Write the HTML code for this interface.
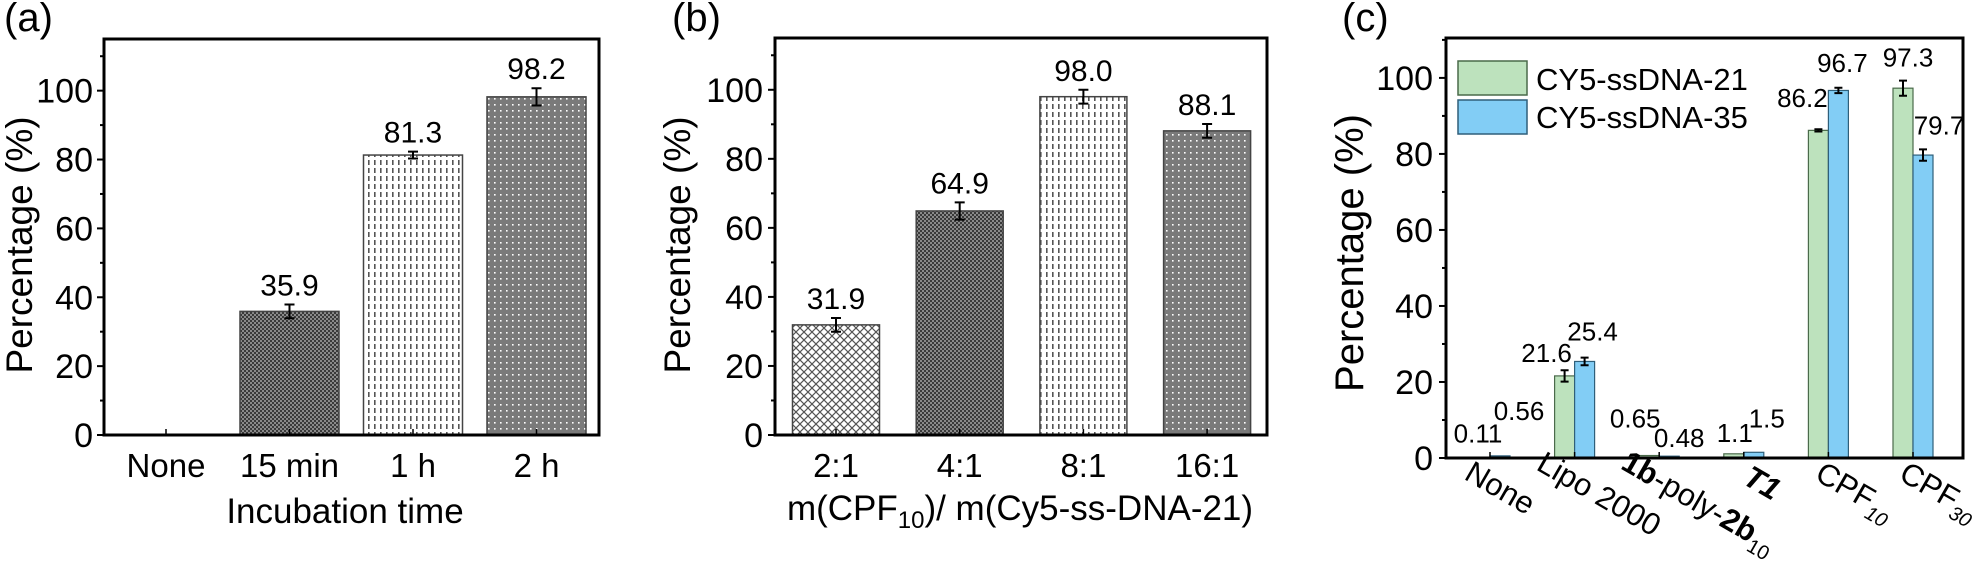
<!DOCTYPE html>
<html><head><meta charset="utf-8"><style>
body{margin:0;background:#fff}
svg{display:block;font-family:"Liberation Sans",Arial,sans-serif}
</style></head><body>
<svg id="fig" width="1975" height="564" viewBox="0 0 1975 564" xmlns="http://www.w3.org/2000/svg">
<defs>
<pattern id="pChk" width="4" height="4" patternUnits="userSpaceOnUse"><rect width="4" height="4" fill="#3a3a3a"/><rect width="2" height="2" fill="#8a8a8a"/><rect x="2" y="2" width="2" height="2" fill="#8a8a8a"/></pattern>
<pattern id="pDash" width="6" height="8" patternUnits="userSpaceOnUse"><rect width="6" height="8" fill="#fff"/><rect x="2" y="0" width="1.6" height="5" fill="#555"/></pattern>
<pattern id="pDot" width="6" height="6" patternUnits="userSpaceOnUse"><rect width="6" height="6" fill="#7a7a7a"/><rect x="2" y="2" width="1.6" height="1.6" fill="#fff"/></pattern>
<pattern id="pX" width="8" height="8" patternUnits="userSpaceOnUse"><rect width="8" height="8" fill="#fff"/><path d="M0 0L8 8M8 0L0 8" stroke="#555" stroke-width="1.2"/></pattern>
</defs>
<g id="root"></g>
</svg>
<script>
// Panel (a)
const catsA = ["None","15 min","1 h","2 h"];
const valsA = [0, 35.9, 81.3, 98.2];
const errA = [0, 2, 1, 2.5];
const labA = ["", "35.9", "81.3", "98.2"];
const fillA = ["none","url(#pChk)","url(#pDash)","url(#pDot)"];
// Panel (b)
const catsB = ["2:1","4:1","8:1","16:1"];
const valsB = [31.9, 64.9, 98.0, 88.1];
const errB = [2, 2.5, 2, 2];
const labB = ["31.9","64.9","98.0","88.1"];
const fillB = ["url(#pX)","url(#pChk)","url(#pDash)","url(#pDot)"];
// Panel (c)
const catsC = ["None","Lipo 2000","1b-poly-2b10","T1","CPF10","CPF30"];
const valsC21 = [0.11, 21.6, 0.65, 1.1, 86.2, 97.3];
const valsC35 = [0.56, 25.4, 0.48, 1.5, 96.7, 79.7];
const errC21 = [0, 1.5, 0, 0, 0.3, 2];
const errC35 = [0, 1, 0, 0, 0.7, 1.5];
const labC21 = ["0.11","21.6","0.65","1.1","86.2","97.3"];
const labC35 = ["0.56","25.4","0.48","1.5","96.7","79.7"];
const yTicks = [0,20,40,60,80,100];

const NS = "http://www.w3.org/2000/svg";
const root = document.getElementById("root");
function mk(tag, attrs, parent, txt){
  const e = document.createElementNS(NS, tag);
  for (const k in attrs) e.setAttribute(k, attrs[k]);
  if (txt !== undefined) e.textContent = txt;
  (parent||root).appendChild(e);
  return e;
}

function axes(g, L, R, T, B, ymax, tickRight){
  const y = v => B - v/ymax*(B-T);
  for (let v=0; v<=ymax; v+=10){
    const major = v%20===0;
    const t = mk("line",{x1:L-(major?7:4),x2:L,y1:y(v),y2:y(v),stroke:"#000","stroke-width":2},g);
    
    
  }
  yTicks.forEach(v=>{
    const t = mk("text",{x:tickRight,y:y(v)+12,"text-anchor":"end","font-size":34},g,String(v));
    
    
  });
  const fr = mk("rect",{x:L,y:T,width:R-L,height:B-T,fill:"none",stroke:"#000","stroke-width":3},g);
  
  
  return y;
}

function errbar(g, x, yTop, yBot, w){
  const e = mk("path",{d:`M${x-w} ${yTop}H${x+w}M${x} ${yTop}V${yBot}M${x-w} ${yBot}H${x+w}`,stroke:"#000","stroke-width":2,fill:"none"},g);
  
  
}

function simplePanel(name, cats, vals, errs, labs, fills, L, R, T, B, firstX, step, bw, tickRight, ylabX, letter, letterX){
  const g = mk("g",{});
  
  
  const ymax = 115;
  const y = v => B - v/ymax*(B-T);
  cats.forEach((c,i)=>{
    const cx = firstX + i*step;
    if (vals[i] > 0){
      const r = mk("rect",{x:cx-bw/2,y:y(vals[i]),width:bw,height:B-y(vals[i]),fill:fills[i],stroke:"#444","stroke-width":1.5},g);
      
      
      errbar(g, cx, y(vals[i]+errs[i]), y(vals[i]-errs[i]), 5);
      const t = mk("text",{x:cx,y:y(vals[i]+errs[i])-9,"text-anchor":"middle","font-size":30},g,labs[i]);
      
      
    }
    const tk = mk("line",{x1:cx,x2:cx,y1:B,y2:B-6,stroke:"#000","stroke-width":1.5},g);
    
    
    const cl = mk("text",{x:cx,y:477,"text-anchor":"middle","font-size":33},g,c);
    
    
  });
  axes(g, L, R, T, B, ymax, tickRight);
  const yl = mk("text",{x:0,y:0,transform:`translate(${ylabX},245) rotate(-90)`,"text-anchor":"middle","font-size":37},g,"Percentage (%)");
  
  
  const lt = mk("text",{x:letterX,y:31,"font-size":40},g,letter);
  
  
  return g;
}

// Panel a
const ga = simplePanel("panel-a", catsA, valsA, errA, labA, fillA, 104, 599, 39, 435, 166, 123.5, 99, 93, 32, "(a)", 4);
const ta = mk("text",{x:345,y:523,"text-anchor":"middle","font-size":35},ga,"Incubation time");



// Panel b
const gb = simplePanel("panel-b", catsB, valsB, errB, labB, fillB, 775, 1267, 38, 435, 836, 123.7, 87, 763, 690, "(b)", 672);
const tb = mk("text",{x:1020,y:520,"text-anchor":"middle","font-size":35},gb);


tb.innerHTML = 'm(CPF<tspan font-size="24" dy="8">10</tspan><tspan dy="-8">)/ m(Cy5-ss-DNA-21)</tspan>';

// Panel c
const gc = mk("g",{});


{
  const L=1446,R=1963,T=38,B=458,ymax=110.5;
  const y = v => B - v/ymax*(B-T);
  const first=1490, step=84.6, bw=20;
  // label offsets (layout only): dx from group centre, dy above error top
  const dx21 = [-12,-28,-24,-9,-26,-5], dy21 = [15,8,28,12,22,14];
  const dx35 = [29,18,20,23,14,26], dy35 = [36,17,9,25,16,15];
  catsC.forEach((c,i)=>{
    const cx = first + i*step;
    const r1 = mk("rect",{x:cx-bw,y:y(valsC21[i]),width:bw,height:B-y(valsC21[i]),fill:"#bde2bd",stroke:"#4a6a4a","stroke-width":1.2},gc);
    
    
    const r2 = mk("rect",{x:cx,y:y(valsC35[i]),width:bw,height:B-y(valsC35[i]),fill:"#82cdf5",stroke:"#2f5f7a","stroke-width":1.2},gc);
    
    
    if (errC21[i]>0) errbar(gc, cx-bw/2, y(valsC21[i]+errC21[i]), y(valsC21[i]-errC21[i]), 4);
    if (errC35[i]>0) errbar(gc, cx+bw/2, y(valsC35[i]+errC35[i]), y(valsC35[i]-errC35[i]), 4);
    const l1 = mk("text",{x:cx+dx21[i],y:y(valsC21[i]+errC21[i])-dy21[i],"text-anchor":"middle","font-size":26},gc,labC21[i]);
    
    
    const l2 = mk("text",{x:cx+dx35[i],y:y(valsC35[i]+errC35[i])-dy35[i],"text-anchor":"middle","font-size":26},gc,labC35[i]);
    
    
    const tk = mk("line",{x1:cx,x2:cx,y1:B,y2:B-6,stroke:"#000","stroke-width":1.5},gc);
    
    
  });
  axes(gc, L, R, T, B, ymax, 1433);
  const labs = [
    ['None',1495,497],
    ['Lipo 2000',1594,503],
    ['<tspan font-weight="bold">1b</tspan>-poly-<tspan font-weight="bold">2b</tspan><tspan font-size="20" dy="8">10</tspan>',1694,511],
    ['<tspan font-weight="bold" font-style="italic">T1</tspan>',1757,492],
    ['CPF<tspan font-size="20" font-style="italic" dy="8">10</tspan>',1850,500],
    ['CPF<tspan font-size="20" font-style="italic" dy="8">30</tspan>',1934,500]
  ];
  labs.forEach(l=>{
    const t = mk("text",{x:0,y:0,transform:`translate(${l[1]},${l[2]}) rotate(30)`,"text-anchor":"middle","font-size":31},gc);
    t.innerHTML = l[0];
    
    
  });
  const yl = mk("text",{x:0,y:0,transform:`translate(1363,253) rotate(-90)`,"text-anchor":"middle","font-size":40},gc,"Percentage (%)");
  
  
  const lt = mk("text",{x:1342,y:31,"font-size":40},gc,"(c)");
  
  
  const lg = mk("g",{},gc);
  
  
  const b1 = mk("rect",{x:1458,y:61,width:69,height:34,fill:"#bde2bd",stroke:"#4a6a4a","stroke-width":1.5},lg);
  
  
  const b2 = mk("rect",{x:1458,y:100,width:69,height:34,fill:"#82cdf5",stroke:"#2f5f7a","stroke-width":1.5},lg);
  
  
  const t1 = mk("text",{x:1536,y:90,"font-size":31},lg,"CY5-ssDNA-21");
  
  
  const t2 = mk("text",{x:1536,y:128,"font-size":31},lg,"CY5-ssDNA-35");
  
  
}
</script>
</body></html>
